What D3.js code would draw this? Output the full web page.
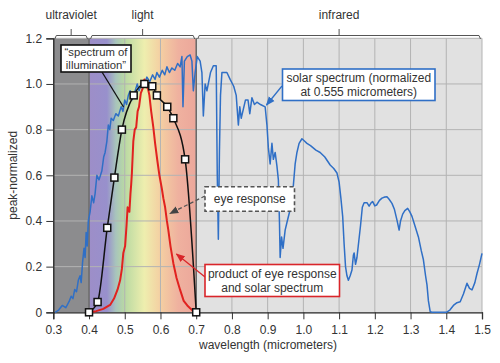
<!DOCTYPE html>
<html>
<head>
<meta charset="utf-8">
<script src="https://cdn.jsdelivr.net/npm/d3@7"></script>
<style>
  body { margin: 0; background: #fff; }
  text { font-family: "Liberation Sans", Arial, sans-serif; fill: #333; }
</style>
</head>
<body>
<svg id="chart" width="500" height="363"></svg>
<script>
//
// DATA
//
// solar spectrum (normalized at 0.555 micrometers)
const solarX = [0.305, 0.315, 0.325, 0.335, 0.345, 0.35, 0.355, 0.36, 0.365, 0.37, 0.375, 0.378, 0.382, 0.386, 0.389, 0.392, 0.395, 0.398,
    0.403, 0.408, 0.413, 0.417, 0.422, 0.428, 0.436, 0.441, 0.445, 0.45, 0.454, 0.458, 0.462, 0.468, 0.475, 0.482, 0.49, 0.495,
    0.5, 0.505, 0.51, 0.515, 0.52, 0.527, 0.535, 0.54, 0.548, 0.555, 0.562, 0.57, 0.578, 0.585, 0.59, 0.597, 0.605, 0.612, 0.618,
    0.625, 0.632, 0.64, 0.648, 0.655, 0.66, 0.663, 0.667, 0.675, 0.683, 0.688, 0.692, 0.697, 0.703, 0.711, 0.716, 0.72, 0.725,
    0.73, 0.74, 0.748, 0.756, 0.759, 0.762, 0.765, 0.768, 0.772, 0.786, 0.795, 0.805, 0.812, 0.818, 0.822, 0.826, 0.832, 0.838,
    0.845, 0.85, 0.856, 0.863, 0.87, 0.88, 0.893, 0.898, 0.902, 0.907, 0.912, 0.916, 0.921, 0.926, 0.93, 0.933, 0.935, 0.939,
    0.943, 0.949, 0.955, 0.963, 0.97, 0.977, 0.982, 0.988, 0.996, 1.003, 1.01, 1.02, 1.035, 1.047, 1.06, 1.075, 1.085, 1.094,
    1.1, 1.105, 1.11, 1.114, 1.118, 1.122, 1.126, 1.131, 1.136, 1.14, 1.142, 1.146, 1.15, 1.155, 1.16, 1.165, 1.17, 1.178, 1.184,
    1.19, 1.194, 1.2, 1.205, 1.213, 1.22, 1.228, 1.234, 1.24, 1.248, 1.255, 1.262, 1.268, 1.272, 1.278, 1.284, 1.292, 1.298,
    1.304, 1.312, 1.322, 1.33, 1.336, 1.342, 1.346, 1.35, 1.355, 1.36, 1.38, 1.4, 1.41, 1.42, 1.43, 1.439, 1.448, 1.458, 1.465,
    1.472, 1.48, 1.486, 1.493, 1.5]
const solarY = [0, 0.01, 0.03, 0.02, 0.05, 0.07, 0.06, 0.1, 0.09, 0.14, 0.16, 0.13, 0.22, 0.28, 0.24, 0.35, 0.29, 0.4,
    0.44, 0.51, 0.48, 0.52, 0.6, 0.58, 0.62, 0.68, 0.7, 0.75, 0.82, 0.8, 0.85, 0.84, 0.87, 0.86, 0.9, 0.88,
    0.93, 0.91, 0.95, 0.97, 0.93, 0.96, 1.0, 0.97, 1.01, 1.0, 1.03, 1.01, 1.04, 1.02, 1.05, 1.03, 1.06, 1.04, 1.075,
    1.05, 1.07, 1.06, 1.09, 1.075, 1.12, 0.9, 1.1, 1.12, 1.127, 1.1, 0.97, 1.05, 1.12, 1.1, 1.05, 0.86, 1.0,
    0.97, 1.05, 1.08, 1.08, 0.6, 0.32, 0.7, 0.95, 1.05, 1.05, 1.02, 0.99, 0.95, 0.82, 0.9, 0.85, 0.89, 0.93,
    0.93, 0.87, 0.94, 0.91, 0.92, 0.91, 0.9, 0.82, 0.72, 0.65, 0.74, 0.67, 0.7, 0.64, 0.58, 0.4, 0.24, 0.33,
    0.28, 0.36, 0.4, 0.45, 0.52, 0.65, 0.7, 0.74, 0.76, 0.75, 0.74, 0.73, 0.71, 0.7, 0.68, 0.645, 0.63, 0.61,
    0.57, 0.5, 0.42, 0.3, 0.2, 0.16, 0.14, 0.16, 0.185, 0.25, 0.26, 0.21, 0.24, 0.31, 0.38, 0.46, 0.48, 0.48, 0.465,
    0.48, 0.485, 0.466, 0.47, 0.49, 0.5, 0.505, 0.506, 0.495, 0.477, 0.45, 0.404, 0.36, 0.4, 0.43, 0.445, 0.455, 0.44,
    0.42, 0.38, 0.33, 0.27, 0.23, 0.16, 0.12, 0.05, 0.003, 0, 0, 0, 0.01, 0.03, 0.042, 0.046, 0.08, 0.127, 0.105,
    0.098, 0.13, 0.17, 0.21, 0.258]

// eye response (marked points)
const eyeX = [0.4, 0.424, 0.451, 0.471, 0.492, 0.525, 0.555, 0.577, 0.59, 0.619, 0.636, 0.669, 0.7]
const eyeY = [0, 0.045, 0.37, 0.59, 0.8, 0.95, 1.0, 0.99, 0.95, 0.9, 0.85, 0.67, 0]

// product of eye response and solar spectrum
const prodX = [0.4, 0.42, 0.44, 0.459, 0.47, 0.48, 0.487, 0.492, 0.496, 0.501, 0.505, 0.508, 0.513, 0.516, 0.518, 0.52,
    0.524, 0.528, 0.532, 0.536, 0.54, 0.545, 0.55, 0.555, 0.56, 0.565, 0.569, 0.574, 0.58, 0.585, 0.591, 0.597, 0.604,
    0.608, 0.613, 0.618, 0.622, 0.628, 0.636, 0.645, 0.655, 0.665, 0.675, 0.683, 0.69, 0.7]
const prodY = [0, 0.005, 0.015, 0.032, 0.06, 0.1, 0.14, 0.19, 0.26, 0.29, 0.38, 0.46, 0.44, 0.52, 0.56, 0.61,
    0.75, 0.8, 0.81, 0.88, 0.9, 0.96, 0.98, 1.02, 0.99, 0.98, 0.95, 0.88, 0.81, 0.74, 0.667, 0.6, 0.54,
    0.5, 0.46, 0.4, 0.36, 0.29, 0.215, 0.15, 0.098, 0.05, 0.03, 0.018, 0.008, 0]

// regions across the top
const regionNames = ['ultraviolet', 'light', 'infrared']
const regionStart = [0.3, 0.4, 0.7]
const regionEnd = [0.4, 0.7, 1.5]

// tick labels
const xTicks = [0.3, 0.4, 0.5, 0.6, 0.7, 0.8, 0.9, 1.0, 1.1, 1.2, 1.3, 1.4, 1.5]
const yTicks = [0, 0.2, 0.4, 0.6, 0.8, 1.0, 1.2]

// visible-light gradient stops
const lightStops = [0.4, 0.45, 0.475, 0.5, 0.555, 0.6, 0.65, 0.7]
const lightColors = ['#9d8ec8', '#9890cc', '#a8c4bc', '#b9d9a2', '#eeeeae', '#f4cfa2', '#efb19f', '#eca79b']

//
// CHART
//
const svg = d3.select('#chart')
const x = d3.scaleLinear().domain([0.3, 1.5]).range([53.3, 482])
const y = d3.scaleLinear().domain([0, 1.2]).range([312.3, 38.3])

// gradient for the visible band
const grad = svg.append('defs').append('linearGradient')
    .attr('id', 'lightGrad')
    .attr('x1', 0).attr('x2', 1).attr('y1', 0).attr('y2', 0)
grad.selectAll('stop')
    .data(lightStops)
    .enter()
    .append('stop')
    .attr('offset', d => (d - 0.4) / 0.3)
    .attr('stop-color', (d, i) => lightColors[i])

// region backgrounds
const regionFill = ['#8c8c8e', 'url(#lightGrad)', '#e1e1e1']
svg.selectAll('rect.region')
    .data(regionStart)
    .enter()
    .append('rect')
    .attr('class', 'region')
    .attr('x', d => x(d))
    .attr('y', y(1.2))
    .attr('width', (d, i) => x(regionEnd[i]) - x(d))
    .attr('height', y(0) - y(1.2))
    .attr('fill', (d, i) => regionFill[i])

// grid
const grid = svg.append('g').attr('stroke', '#b3b3b3').attr('stroke-width', 1)
grid.selectAll('line.gx')
    .data(xTicks.slice(1))
    .enter()
    .append('line')
    .attr('x1', d => x(d)).attr('x2', d => x(d))
    .attr('y1', y(0)).attr('y2', y(1.2))
grid.selectAll('line.gy')
    .data(yTicks.slice(1))
    .enter()
    .append('line')
    .attr('x1', x(0.3)).attr('x2', x(1.5))
    .attr('y1', d => y(d)).attr('y2', d => y(d))

// region borders
svg.selectAll('line.border')
    .data([0.4, 0.7])
    .enter()
    .append('line')
    .attr('x1', d => x(d)).attr('x2', d => x(d))
    .attr('y1', y(0)).attr('y2', y(1.2))
    .attr('stroke', '#555')
    .attr('stroke-width', 1.2)

// axes
const xAxis = svg.append('g')
    .attr('transform', `translate(0,${y(0)})`)
    .call(d3.axisBottom(x).tickValues(d3.range(0.3, 1.5001, 0.05)).tickSize(4).tickFormat(''))
xAxis.call(d3.axisBottom(x).tickValues(xTicks).tickSize(7).tickFormat(d3.format('.1f')))
const yAxis = svg.append('g')
    .attr('transform', `translate(${x(0.3)},0)`)
    .call(d3.axisLeft(y).tickValues(d3.range(0, 1.2001, 0.05)).tickSize(4).tickFormat(''))
yAxis.call(d3.axisLeft(y).tickValues(yTicks).tickSize(7).tickFormat(d => (d === 0 ? '0' : d3.format('.1f')(d))))
svg.selectAll('.domain').attr('stroke', '#222').attr('stroke-width', 1.3)
svg.selectAll('.tick line').attr('stroke', '#333')
svg.selectAll('.tick text').style('font-size', '12px').attr('fill', '#333')
xAxis.selectAll('.tick text').attr('dy', '0.95em')
yAxis.selectAll('.tick text').attr('dx', '-0.1em')

// axis titles
svg.append('text')
    .attr('x', 268).attr('y', 349)
    .attr('text-anchor', 'middle')
    .style('font-size', '12px')
    .text('wavelength (micrometers)')
svg.append('text')
    .attr('transform', `translate(17,${y(0.6)}) rotate(-90)`)
    .attr('text-anchor', 'middle')
    .style('font-size', '12px')
    .text('peak-normalized')

// region brackets on top
const br = svg.append('g').attr('fill', 'none').attr('stroke', '#555').attr('stroke-width', 1)
br.selectAll('path')
    .data(regionStart)
    .enter()
    .append('path')
    .attr('d', (d, i) => {
        const a = x(d) + 1.5
        const b = x(regionEnd[i]) - 1.5
        const m = (a + b) / 2
        return `M${a},39L${a + 1.5},35.5L${b - 1.5},35.5L${b},39M${m},35.5L${m},29`
    })
svg.selectAll('text.region')
    .data(regionNames)
    .enter()
    .append('text')
    .attr('class', 'region')
    .attr('x', (d, i) => (x(regionStart[i]) + x(regionEnd[i])) / 2)
    .attr('y', 19)
    .attr('text-anchor', 'middle')
    .style('font-size', '12px')
    .text(d => d)

// curves
const line = d3.line().x(d => x(d[0])).y(d => y(d[1]))
svg.append('path')
    .datum(d3.zip(solarX, solarY))
    .attr('d', line)
    .attr('fill', 'none')
    .attr('stroke', '#2f6fc6')
    .attr('stroke-width', 1.5)
    .attr('stroke-linejoin', 'round')

svg.append('path')
    .datum(d3.zip(eyeX, eyeY))
    .attr('d', line.curve(d3.curveMonotoneX))
    .attr('fill', 'none')
    .attr('stroke', '#111')
    .attr('stroke-width', 1.5)
line.curve(d3.curveLinear)

svg.append('path')
    .datum(d3.zip(prodX, prodY))
    .attr('d', line)
    .attr('fill', 'none')
    .attr('stroke', '#e1221f')
    .attr('stroke-width', 2)
    .attr('stroke-linejoin', 'round')

svg.selectAll('rect.marker')
    .data(d3.zip(eyeX, eyeY))
    .enter()
    .append('rect')
    .attr('class', 'marker')
    .attr('x', d => x(d[0]) - 3.5)
    .attr('y', d => y(d[1]) - 3.5)
    .attr('width', 7)
    .attr('height', 7)
    .attr('fill', '#fff')
    .attr('stroke', '#111')
    .attr('stroke-width', 1.5)

// annotations
const defs = svg.select('defs')
const addHead = (id, color) => {
    defs.append('marker')
        .attr('id', id)
        .attr('viewBox', '0 0 10 10')
        .attr('refX', 9).attr('refY', 5)
        .attr('markerWidth', 7).attr('markerHeight', 7)
        .attr('orient', 'auto')
        .append('path')
        .attr('d', 'M0,1L10,5L0,9Z')
        .attr('fill', color)
}
addHead('headBlue', '#2f6fc6')
addHead('headRed', '#d9252a')
addHead('headGray', '#444')

const callout = (box, lines, stroke, dash, arrow, head, size) => {
    const g = svg.append('g')
    g.append('line')
        .attr('x1', arrow[0]).attr('y1', arrow[1])
        .attr('x2', arrow[2]).attr('y2', arrow[3])
        .attr('stroke', stroke)
        .attr('stroke-width', 1.3)
        .attr('stroke-dasharray', dash)
        .attr('marker-end', head ? `url(#${head})` : null)
    g.append('rect')
        .attr('x', box[0]).attr('y', box[1])
        .attr('width', box[2]).attr('height', box[3])
        .attr('fill', '#fff')
        .attr('stroke', stroke)
        .attr('stroke-width', 1.6)
        .attr('stroke-dasharray', dash)
    const cy = box[1] + box[3] / 2 - (lines.length - 1) * 6.8
    lines.forEach((t, i) => {
        g.append('text')
            .attr('x', box[0] + box[2] / 2)
            .attr('y', cy + i * 13.6)
            .attr('dy', '0.35em')
            .attr('text-anchor', 'middle')
            .style('font-size', (size || 12) + 'px')
            .attr('fill', '#222')
            .text(t)
    })
}
callout([61, 45, 70, 27], ['\u201cspectrum of', 'illumination\u201d'], '#111', null, [102, 72, 123.5, 107], null, 11.3)
callout([282.5, 69, 152.5, 31.5], ['solar spectrum (normalized', 'at 0.555 micrometers)'], '#2f6fc6', null, [282, 86, 266.5, 105], 'headBlue')
callout([205, 186.7, 89.5, 24.5], ['eye response'], '#555', '4,2.5', [205, 196, 170, 213.5], 'headGray')
callout([205, 264.5, 134.5, 32], ['product of eye response', 'and solar spectrum'], '#d9252a', null, [205, 277, 176.5, 254], 'headRed')
</script>
</body>
</html>
